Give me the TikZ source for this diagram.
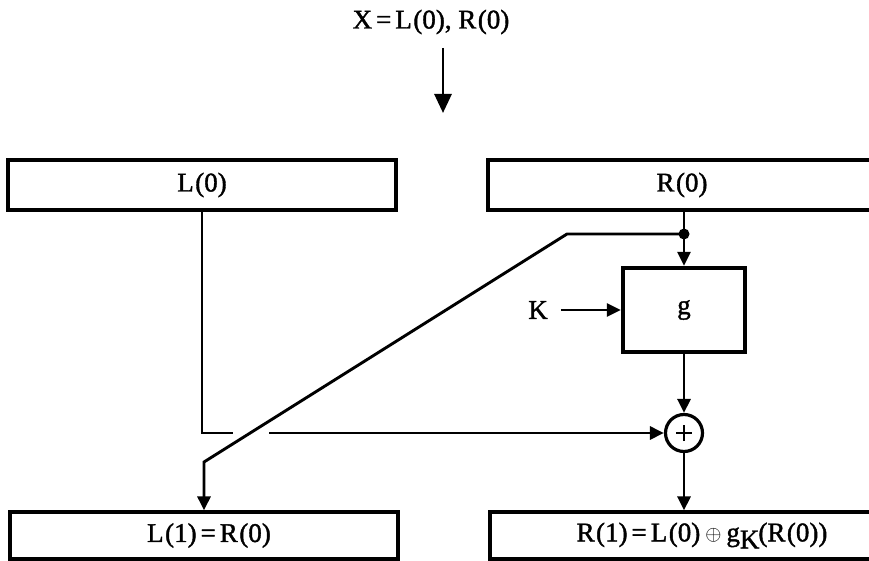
\documentclass[tikz,border=0pt]{standalone}
\usepackage{fontspec}
\setmainfont{Liberation Serif}[FakeBold=1.4]
\usetikzlibrary{arrows.meta}
\begin{document}
\begin{tikzpicture}[x=1pt,y=-1pt,
  box/.style={draw, line width=3.2pt, rectangle, inner sep=0pt, font=\fontsize{27}{32}\selectfont},
  conn/.style={line width=2.9pt},
  arr/.style={conn, -{Triangle[width=13pt,length=14pt]}},
  bigarr/.style={conn, -{Triangle[width=17pt,length=19pt]}},
  lbl/.style={font=\fontsize{27}{32}\selectfont, inner sep=0pt}]
\useasboundingbox (0,0) rectangle (869,561);
\clip (0,0) rectangle (869,561);

% top label and arrow
\node[lbl] (X) at (431,22) {X\kern4pt=\kern4pt L\kern1.5pt(0), R\kern1.5pt(0)};
\coordinate (topA) at (443,48);
\coordinate (topB) at (443,113);
\draw[bigarr] (topA) -- (topB);

% boxes
\node[box, minimum width=388pt, minimum height=50pt] (L0) at (202,185) {L\kern1.5pt(0)};
\node[box, minimum width=388pt, minimum height=50pt] (R0) at (682,185) {R\kern1.5pt(0)};
\node[box, minimum width=388pt, minimum height=47pt] (L1) at (204,535.5) {};
\node[lbl] (L1t) at (209,535.5) {L\kern1.5pt(1)\kern4pt=\kern4pt R\kern1.5pt(0)};
\node[box, minimum width=388pt, minimum height=47pt] (R1) at (684,535.5) {};
\node[lbl] (R1t) at (702,535.5) {R\kern1.5pt(1)\kern4pt=\kern4pt L\kern1.5pt(0)\kern5pt\raisebox{1pt}{\fontsize{20}{20}\selectfont$\oplus$}\kern5pt g\raisebox{-7pt}{K}\kern-1pt(R\kern1.5pt(0))};

% g box
\node[draw, line width=4.5pt, minimum width=122pt, minimum height=84pt, inner sep=0pt,
      font=\fontsize{27}{32}\selectfont] (g) at (684,310) {g};
\node[lbl] (K) at (538,310) {K};

% xor
\node[draw, circle, line width=3.2pt, minimum size=37pt, inner sep=0pt] (xor) at (684,433) {};
\draw[line width=1.6pt] ([xshift=-8pt]xor.center) -- ([xshift=8pt]xor.center);
\draw[line width=1.6pt] ([yshift=-8pt]xor.center) -- ([yshift=8pt]xor.center);

% junction
\coordinate (dot) at (684,234);
\fill (dot) circle (5.5pt);
\coordinate (bend1) at (567,234);
\coordinate (bend2) at (204,462);
\coordinate (gapA) at (233,433);
\coordinate (gapB) at (269,433);

% connectors
\draw[conn] (R0.south -| g.north) -- (dot);
\draw[arr] (dot) -- (g.north);
\draw[arr] (dot) -- (bend1) -- (bend2) -- (bend2 |- L1.north);
\draw[conn] (L0.south) |- (gapA);
\draw[arr] (gapB) -- (xor.west);
\draw[arr] (g.south) -- (xor.north);
\draw[arr] (xor.south) -- (R1.north);
\draw[arr, shorten <=13pt] (K.east) -- (g.west);
\end{tikzpicture}
\end{document}
